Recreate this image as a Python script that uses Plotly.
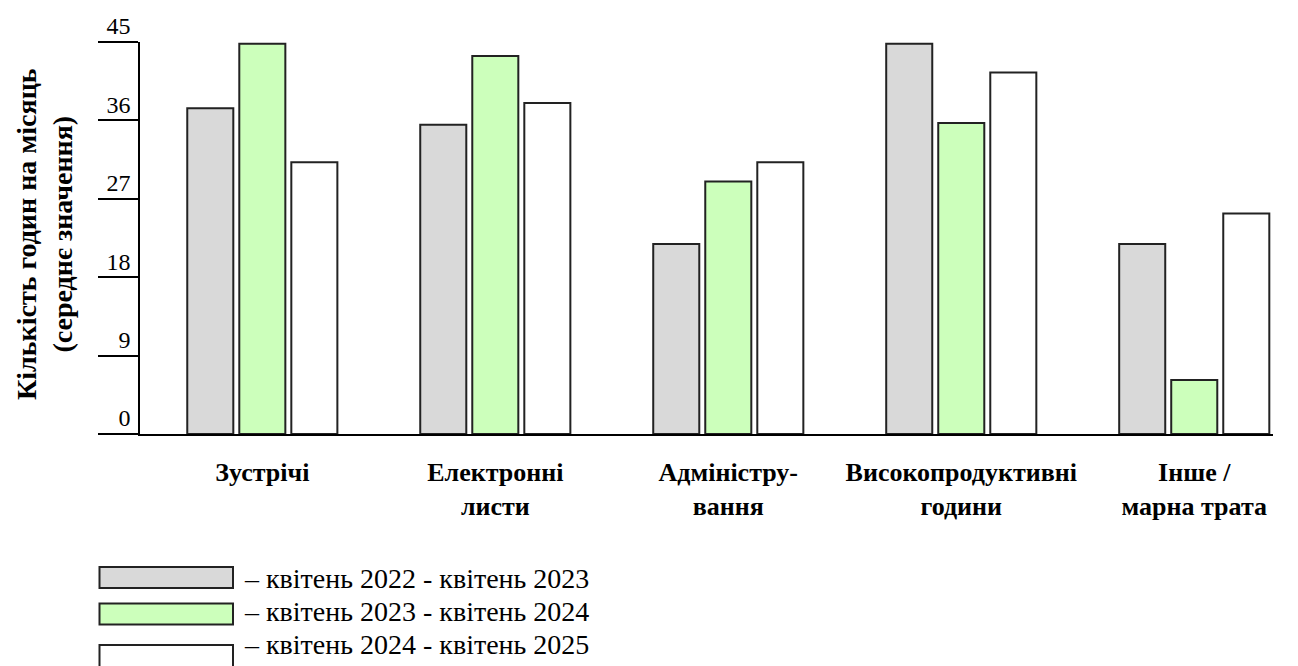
import plotly.graph_objects as go

categories = ["Зустрічі", "Електронні<br>листи", "Адміністру-<br>вання",
              "Високопродуктивні<br>години", "Інше /<br>марна трата"]
series_names = ["– квітень 2022 - квітень 2023",
                "– квітень 2023 - квітень 2024",
                "– квітень 2024 - квітень 2025"]
values_2022_2023 = [37.4, 35.5, 21.8, 44.8, 21.8]
values_2023_2024 = [44.8, 43.4, 29.0, 35.7, 6.2]
values_2024_2025 = [31.2, 38.0, 31.2, 41.5, 25.3]
y_ticks = [0, 9, 18, 27, 36, 45]

series_values = [values_2022_2023, values_2023_2024, values_2024_2025]
colors = ["#d9d9d9", "#ccffbb", "#ffffff"]

FONT = "Liberation Serif"
W, H = 1298, 666
ML, MR, MT, MB = 140, 25, 42, 232
PW, PH = W - ML - MR, H - MT - MB


def px(x):
    return (x - ML) / PW


def py(y):
    return (H - MB - y) / PH


fig = go.Figure()
for name, vals, col in zip(series_names, series_values, colors):
    fig.add_trace(go.Bar(
        x=categories, y=vals, name=name, showlegend=False,
        marker=dict(color=col, line=dict(color="#222222", width=2)),
    ))

fig.update_layout(
    width=W, height=H,
    margin=dict(l=ML, r=MR, t=MT, b=MB, autoexpand=False),
    paper_bgcolor="white", plot_bgcolor="white",
    barmode="group", bargap=0.33, bargroupgap=0.115,
    font=dict(family=FONT, color="black"),
)
fig.update_xaxes(
    type="category", range=[-0.525, 4.338],
    showline=True, linewidth=1.5, linecolor="black",
    ticks="", showgrid=False, zeroline=False,
    tickfont=dict(family=FONT, size=26, weight="bold", color="black"),
    ticklabelstandoff=14,
)
fig.update_yaxes(
    range=[0, 45], tickvals=y_ticks, ticktext=[str(v) for v in y_ticks],
    showline=True, linewidth=1.5, linecolor="black",
    ticks="outside", ticklen=40, tickwidth=1.5, tickcolor="black",
    showgrid=False, zeroline=False,
    tickfont=dict(family=FONT, size=24, color="black"),
    ticklabelstandoff=-37, ticklabelshift=-16,
)

# Y-axis title
fig.add_annotation(
    text="Кількість годин на місяць<br>(середнє значення)",
    xref="paper", yref="paper", x=px(44), y=py(234),
    xanchor="center", yanchor="middle", textangle=-90, showarrow=False,
    font=dict(family=FONT, size=28, weight="bold", color="black"),
)

# Legend (manual)
sw_top = [567, 603.5, 645]
sw_bottom = [588, 624.5, 669]
txt_y = [578, 611, 644]
for i, (name, col) in enumerate(zip(series_names, colors)):
    fig.add_shape(
        type="rect", xref="paper", yref="paper",
        x0=px(99.5), x1=px(233), y0=py(sw_top[i]), y1=py(sw_bottom[i]),
        fillcolor=col, line=dict(color="#222222", width=2), layer="above",
    )
    fig.add_annotation(
        text=name, xref="paper", yref="paper", x=px(242), y=py(txt_y[i]),
        xanchor="left", yanchor="middle", showarrow=False,
        font=dict(family=FONT, size=28, color="black"),
    )

fig.write_html("out.html")
